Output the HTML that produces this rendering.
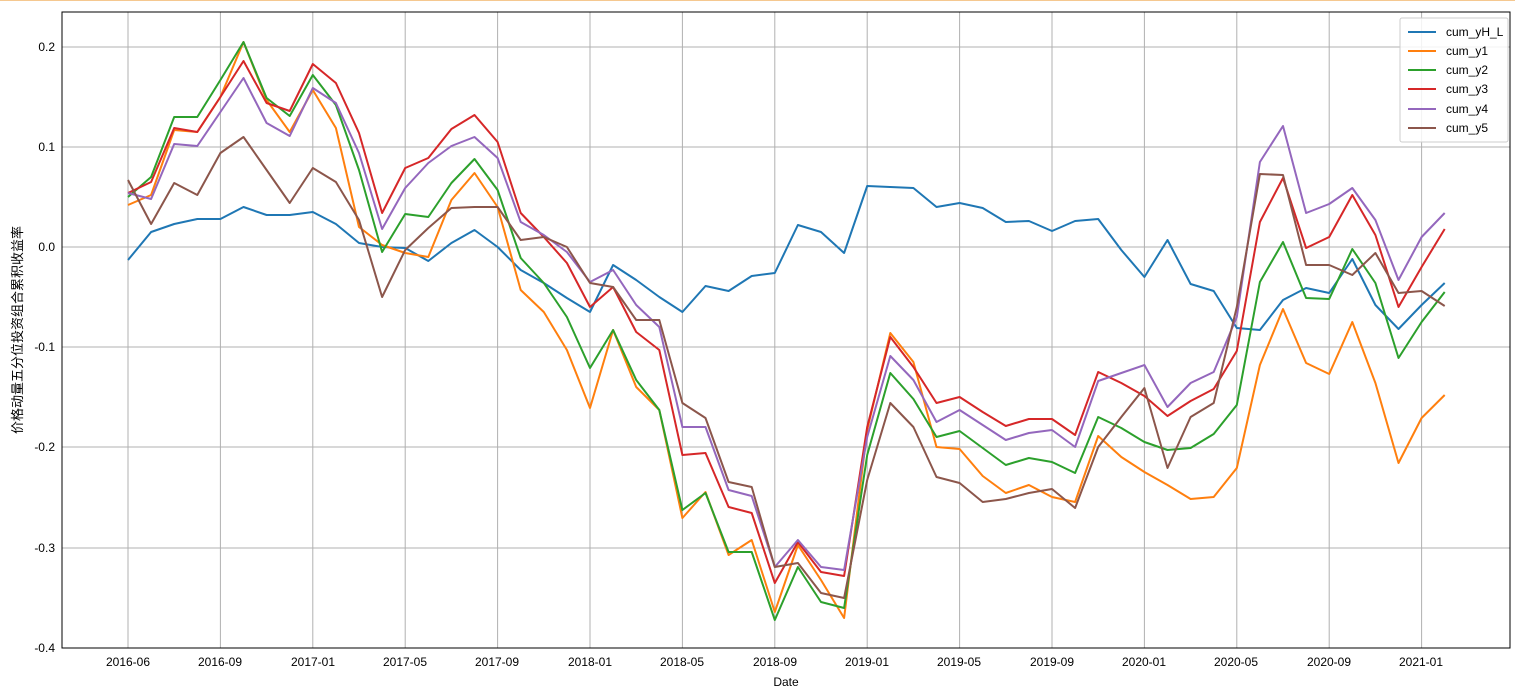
<!DOCTYPE html>
<html><head><meta charset="utf-8"><style>
body{margin:0;background:#fff;}
svg{display:block;font-family:"Liberation Sans","Noto Sans CJK SC",sans-serif;}
</style></head><body>
<svg id="s" width="1515" height="693" viewBox="0 0 1515 693" xmlns="http://www.w3.org/2000/svg">
<rect x="0" y="0" width="1515" height="693" fill="#fff"/>
<line x1="0" y1="0.5" x2="1515" y2="0.5" stroke="#f5c890" stroke-width="1"/>
<g id="grid" stroke="#b0b0b0" stroke-width="1"></g>
<g id="series" fill="none" stroke-width="2" stroke-linejoin="round"></g>
<rect x="62" y="12" width="1448" height="636" fill="none" stroke="#000" stroke-width="1"/>
<g font-size="12" fill="#000" text-anchor="end">
<text x="55" y="51">0.2</text><text x="55" y="151">0.1</text><text x="55" y="251">0.0</text>
<text x="55" y="351">-0.1</text><text x="55" y="451">-0.2</text><text x="55" y="552">-0.3</text><text x="55" y="652">-0.4</text>
</g>
<g font-size="12" fill="#000" text-anchor="middle">
<text x="128" y="666">2016-06</text><text x="220" y="666">2016-09</text><text x="313" y="666">2017-01</text>
<text x="405" y="666">2017-05</text><text x="497" y="666">2017-09</text><text x="590" y="666">2018-01</text>
<text x="682" y="666">2018-05</text><text x="775" y="666">2018-09</text><text x="867" y="666">2019-01</text>
<text x="959" y="666">2019-05</text><text x="1052" y="666">2019-09</text><text x="1144" y="666">2020-01</text>
<text x="1236" y="666">2020-05</text><text x="1329" y="666">2020-09</text><text x="1421" y="666">2021-01</text>
<text x="786" y="686">Date</text>
</g>
<text transform="translate(22,330) rotate(-90)" font-size="13" text-anchor="middle" fill="#000">价格动量五分位投资组合累积收益率</text>
<rect x="1400" y="18" width="108" height="124" fill="#fff" fill-opacity="0.85" stroke="#ccc" rx="2"/>
<g stroke-width="2">
<line x1="1408" y1="32" x2="1436" y2="32" stroke="#1f77b4"/>
<line x1="1408" y1="51" x2="1436" y2="51" stroke="#ff7f0e"/>
<line x1="1408" y1="70" x2="1436" y2="70" stroke="#2ca02c"/>
<line x1="1408" y1="89" x2="1436" y2="89" stroke="#d62728"/>
<line x1="1408" y1="109" x2="1436" y2="109" stroke="#9467bd"/>
<line x1="1408" y1="128" x2="1436" y2="128" stroke="#8c564b"/>
</g>
<g font-size="12" fill="#000">
<text x="1446" y="36">cum_yH_L</text><text x="1446" y="55">cum_y1</text><text x="1446" y="74">cum_y2</text>
<text x="1446" y="93">cum_y3</text><text x="1446" y="113">cum_y4</text><text x="1446" y="132">cum_y5</text>
</g>
</svg>
<script>
var NS="http://www.w3.org/2000/svg";
var g=document.getElementById("grid");
[47,147,247,347,447,548,648].forEach(function(y){var l=document.createElementNS(NS,"line");l.setAttribute("x1",62);l.setAttribute("x2",1510);l.setAttribute("y1",y);l.setAttribute("y2",y);g.appendChild(l);});
for(var k=0;k<15;k++){var x=128+92.4*k;var l=document.createElementNS(NS,"line");l.setAttribute("x1",x);l.setAttribute("x2",x);l.setAttribute("y1",12);l.setAttribute("y2",648);g.appendChild(l);}
var D=[
["#1f77b4",[260,232,224,219,219,207,215,215,212,224,243,247,248,261,243,230,247,270,283,298,312,265,280,297,312,286,291,276,273,225,232,253,186,187,188,207,203,208,222,221,231,221,219,250,277,240,284,291,328,330,300,288,293,259,305,329,305,283]],
["#ff7f0e",[205,195,130,132,97,42,100,132,90,128,227,245,253,257,200,173,207,290,312,350,408,330,387,410,518,492,555,540,612,545,580,618,430,333,362,447,449,476,493,485,497,502,436,457,472,485,499,497,468,365,309,363,374,322,383,463,418,395]],
["#2ca02c",[197,177,117,117,80,42,98,116,75,105,170,252,214,217,183,159,190,258,283,317,368,330,380,410,510,493,552,552,620,567,602,608,455,373,399,437,431,448,465,458,462,473,417,428,442,450,448,434,405,282,242,298,299,249,283,358,322,292]],
["#d62728",[193,182,128,132,97,61,103,111,64,83,133,213,168,158,129,115,142,213,237,263,307,287,332,350,455,453,507,513,583,542,572,576,427,337,367,403,397,412,426,419,419,435,372,383,396,416,401,389,351,222,178,248,237,195,235,307,267,229]],
["#9467bd",[193,199,144,146,112,78,123,136,88,103,153,229,188,163,146,137,158,222,235,252,282,270,305,327,427,427,490,496,567,540,567,570,437,356,380,422,410,425,440,433,430,447,381,373,365,407,383,372,317,162,126,213,204,188,220,280,237,213]],
["#8c564b",[180,224,183,195,153,137,170,203,168,182,220,297,250,228,208,207,207,240,237,247,283,287,320,320,403,418,482,487,567,563,593,598,480,403,427,477,483,502,499,493,489,508,447,417,388,468,417,403,307,174,175,265,265,275,253,293,291,306]]
];
var s=document.getElementById("series");
D.forEach(function(d){var p=d[1].map(function(y,i){return (128+23.1*i).toFixed(1)+","+y;}).join(" ");var pl=document.createElementNS(NS,"polyline");pl.setAttribute("points",p);pl.setAttribute("stroke",d[0]);s.appendChild(pl);});
</script>
</body></html>
